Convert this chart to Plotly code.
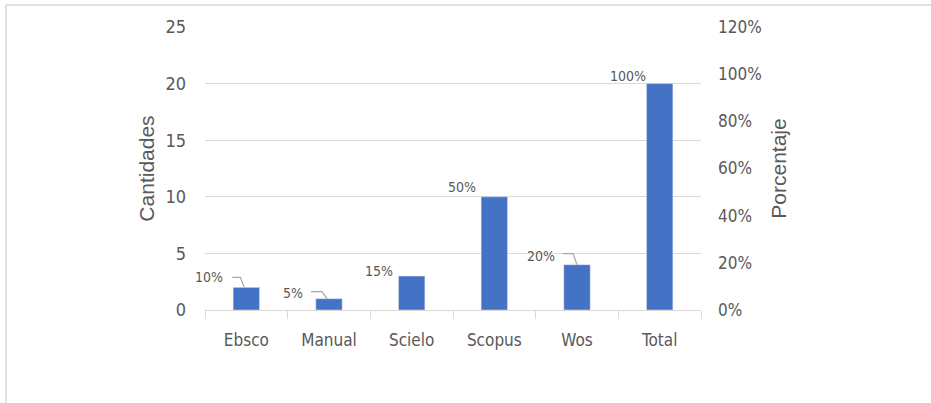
import plotly.graph_objects as go

categories = ["Ebsco", "Manual", "Scielo", "Scopus", "Wos", "Total"]
cantidades = [2, 1, 3, 10, 4, 20]
porcentajes = [0.10, 0.05, 0.15, 0.50, 0.20, 1.00]
left_ticks = [0, 5, 10, 15, 20, 25]
right_ticks = [0, 0.2, 0.4, 0.6, 0.8, 1.0, 1.2]

# label placement (pixels relative to bar top centre): xshift, yshift
label_offsets = [(-21, 10), (-24, 6), (-17, 5), (-16, 10), (-20, 9), (-12, 8)]
# leader line paths (pixels relative to bar top centre), None when no leader
leaders = ["M -2 0 L -6 10 L -14 10", "M -2 0 L -7 7 L -18 7", None, None,
           "M 0 0 L -4 11 L -14 11", None]

W, H = 931, 403
ML, MR, MT, MB = 205, 230, 27, 93
PW, PH = W - ML - MR, H - MT - MB

TICK_FONT = "Liberation Sans Narrow, DejaVu Sans Condensed, Arial Narrow, sans-serif"
TITLE_FONT = "Liberation Sans, Arial, sans-serif"
GRAY = "#595959"
GRID = "#d9d9d9"

fig = go.Figure()
fig.add_trace(go.Bar(x=categories, y=cantidades, marker_color="#4472C4",
                     width=0.32, showlegend=False, hoverinfo="x+y"))
fig.add_trace(go.Scatter(x=categories, y=porcentajes, yaxis="y2", mode="markers",
                         marker=dict(opacity=0), showlegend=False, hoverinfo="skip"))

annotations = []
shapes = []
for i, (c, v, p) in enumerate(zip(categories, cantidades, porcentajes)):
    xs, ys = label_offsets[i]
    annotations.append(dict(x=c, y=v, xref="x", yref="y", text=f"{round(p*100)}%",
                            showarrow=False, xanchor="right", yanchor="middle",
                            xshift=xs, yshift=ys,
                            font=dict(family=TICK_FONT, size=14, color=GRAY)))
    if leaders[i]:
        shapes.append(dict(type="path", xref="x", yref="y", xsizemode="pixel",
                           ysizemode="pixel", xanchor=c, yanchor=v, path=leaders[i],
                           line=dict(color="#a6a6a6", width=1.2)))

# chart frame (left and top edges)
fx = (6 - ML) / PW
fy = 1 + (MT - 5) / PH
shapes.append(dict(type="line", xref="paper", yref="paper", x0=fx, x1=fx, y0=fy,
                   y1=-MB / PH - 0.1, line=dict(color=GRID, width=1.5)))
shapes.append(dict(type="line", xref="paper", yref="paper", x0=fx, x1=(W - ML) / PW + 0.1,
                   y0=fy, y1=fy, line=dict(color=GRID, width=1.5)))

fig.update_layout(
    width=W, height=H,
    margin=dict(l=ML, r=MR, t=MT, b=MB, pad=0),
    paper_bgcolor="white", plot_bgcolor="white",
    xaxis=dict(type="category", range=[-0.5, len(categories) - 0.5], autorange=False,
               showline=True, linecolor=GRID, linewidth=1,
               ticks="outside", tickson="boundaries", ticklen=8, tickcolor=GRID,
               tickfont=dict(family=TICK_FONT, size=17, color=GRAY),
               ticklabelstandoff=15, showgrid=False),
    yaxis=dict(range=[0, 25], autorange=False, tickvals=left_ticks, showgrid=True,
               gridcolor=GRID, gridwidth=1, zeroline=False,
               tickfont=dict(family=TICK_FONT, size=18, color=GRAY),
               ticklabelstandoff=18,
               title=dict(text="Cantidades", standoff=5,
                          font=dict(family=TITLE_FONT, size=21, color=GRAY))),
    yaxis2=dict(range=[0, 1.2], autorange=False, tickvals=right_ticks, tickformat=".0%",
                overlaying="y", side="right", showgrid=False, zeroline=False,
                tickfont=dict(family=TICK_FONT, size=17, color=GRAY),
                ticklabelstandoff=16,
                title=dict(text="Porcentaje", standoff=10,
                           font=dict(family=TITLE_FONT, size=21, color=GRAY))),
    annotations=annotations,
    shapes=shapes,
)

fig.write_html("out.html", config={"displayModeBar": False},
               post_script="document.body.style.margin='0';document.body.style.overflow='hidden';")
